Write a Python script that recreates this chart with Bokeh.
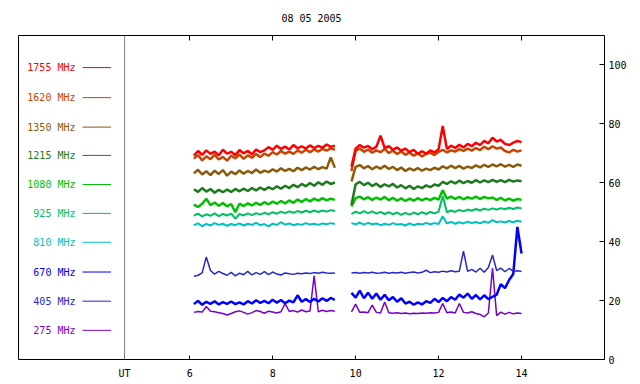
import numpy as np
from bokeh.plotting import figure
from bokeh.models import LinearAxis, FixedTicker, Span, Range1d, ColumnDataSource
from bokeh.core.properties import value
from bokeh.embed import file_html
from bokeh.resources import INLINE

# ---------------- data ----------------
title_text = "08 05 2005"
t_seg1 = np.round(np.arange(6.1, 9.51, 0.1), 2)   # 35 samples
t_seg2 = np.round(np.arange(9.9, 14.01, 0.1), 2)  # 42 samples

f1755_a = [69.2,70.8,69.5,71.0,69.8,70.6,69.3,
           71.2,69.9,70.5,69.4,71.1,70.0,70.8,
           69.7,71.3,70.4,71.0,72.1,71.2,72.6,
           71.5,72.3,71.3,72.8,71.7,72.4,71.6,
           72.7,71.8,72.5,71.9,73.0,72.2,72.6]
f1755_b = [65.5,71.6,72.8,71.9,72.5,71.4,72.2,
           76.0,71.8,72.4,71.2,72.0,70.9,71.6,
           70.4,71.2,69.8,70.7,69.9,71.0,70.3,
           71.4,79.3,71.5,72.6,71.8,72.9,72.0,
           73.2,72.4,73.6,72.8,74.2,73.4,75.3,
           74.0,74.6,73.2,72.8,73.6,74.2,73.8]

f1620_a = [68.2,69.4,67.6,69.0,68.0,69.5,67.9,
           68.8,67.5,69.2,68.3,69.6,68.1,69.3,
           68.5,69.8,68.7,69.9,69.2,70.4,69.6,
           70.8,69.9,70.6,69.8,71.0,70.2,71.2,
           70.4,71.3,70.6,71.5,70.9,71.7,71.2]
f1620_b = [64.0,70.9,71.6,70.5,71.3,70.2,71.0,
           70.4,71.5,70.1,70.9,69.8,70.6,69.5,
           70.3,69.2,70.0,68.9,69.8,70.2,69.4,
           70.5,71.2,70.3,71.0,70.6,71.4,70.8,
           71.6,70.9,71.8,71.1,72.2,71.4,72.4,
           71.6,72.0,70.8,70.3,71.2,70.6,71.0]

f1350_a = [63.2,64.4,62.8,63.9,62.6,64.1,63.0,
           64.3,62.4,63.8,62.9,64.2,63.1,64.0,
           63.3,64.5,63.4,64.1,63.6,64.6,63.8,
           64.9,64.0,64.7,63.9,65.1,64.3,65.2,
           64.5,65.4,64.6,65.3,64.8,68.6,65.1]
f1350_b = [60.5,65.4,66.0,64.9,65.7,64.6,65.5,
           64.8,65.8,64.7,65.4,64.3,65.2,64.0,
           64.9,64.2,65.0,64.1,64.8,64.3,65.1,
           64.5,65.6,64.9,65.8,65.0,65.7,64.8,
           65.5,65.0,65.9,65.2,66.1,65.4,66.2,
           65.6,66.3,65.5,66.1,65.4,66.2,65.8]

f1215_a = [57.8,56.9,58.2,57.0,57.9,56.6,57.6,
           56.8,57.7,56.9,57.9,57.1,58.0,57.2,
           58.2,57.4,58.4,57.6,58.5,57.8,58.8,
           58.0,59.0,58.2,59.3,58.5,59.6,58.8,
           59.9,59.0,60.2,59.3,60.4,59.6,60.1]
f1215_b = [52.5,59.5,60.3,59.2,60.0,58.9,59.7,
           58.6,59.5,58.8,59.6,58.4,59.2,58.1,
           59.0,57.9,58.8,58.2,59.1,58.5,59.4,
           59.0,60.3,59.6,60.5,59.8,60.7,59.9,
           60.6,60.0,60.9,60.1,60.8,60.2,61.0,
           60.3,60.9,60.2,61.0,60.4,60.8,60.5]

f1080_a = [52.6,51.8,52.9,54.6,52.4,53.3,52.2,
           53.1,52.0,52.8,50.0,52.9,52.1,53.0,
           52.3,53.2,52.5,53.4,52.7,53.6,52.9,
           53.8,53.0,54.0,53.2,54.3,53.5,54.5,
           53.7,54.6,53.9,54.8,54.0,54.6,54.2]
f1080_b = [52.0,54.8,55.3,54.4,55.1,54.2,55.0,
           54.3,55.2,54.1,54.9,53.9,54.7,53.8,
           54.6,53.9,54.8,54.0,54.7,54.1,54.9,
           54.3,57.5,54.6,55.3,54.5,55.2,54.4,
           55.1,54.6,55.3,54.5,55.2,54.7,55.0,
           54.2,54.9,54.0,54.6,53.9,54.5,54.2]

f925_a = [48.9,49.5,48.6,49.3,48.8,49.6,48.7,
          49.4,48.9,49.5,47.8,49.4,48.9,49.6,
          49.0,49.7,49.2,49.8,49.3,50.0,49.5,
          50.2,49.7,50.3,49.8,50.4,49.9,50.5,
          50.0,50.6,50.1,50.6,50.2,50.7,50.4]
f925_b = [49.4,50.2,49.6,50.4,49.7,50.3,49.5,
          50.1,49.4,50.0,49.3,49.9,49.1,49.8,
          49.2,49.9,49.3,50.0,49.4,50.1,49.6,
          50.2,55.5,50.0,50.6,50.1,50.8,50.3,
          50.9,50.5,51.1,50.6,51.2,50.8,51.3,
          50.9,51.4,51.0,51.5,51.1,51.6,51.3]

f810_a = [45.6,46.2,45.3,46.0,45.5,46.3,45.7,
          46.1,45.4,46.0,45.6,46.2,45.5,46.1,
          45.7,46.4,45.6,46.0,45.2,46.1,45.7,
          46.6,45.8,46.2,45.6,46.0,45.7,46.3,
          45.8,46.1,45.7,46.2,45.9,46.3,46.0]
f810_b = [46.3,45.9,46.5,45.8,46.4,45.9,46.2,
          45.6,46.1,45.7,46.3,45.8,46.0,45.5,
          46.2,45.6,46.1,45.8,46.4,45.9,46.3,
          46.0,48.6,46.2,46.7,46.1,46.6,46.2,
          46.8,46.3,46.7,46.2,46.9,46.4,47.3,
          46.6,46.9,46.5,47.0,46.6,47.1,46.8]

f405_a = [28.3,28.6,29.4,34.8,30.2,29.0,29.9,
          29.2,28.6,29.6,28.4,29.3,28.8,29.9,
          28.7,29.5,28.9,29.8,28.8,29.7,29.0,
          28.7,29.4,29.1,28.9,29.3,29.1,29.4,
          29.2,29.5,29.3,29.6,29.4,29.3,29.4]
f405_b = [29.4,29.5,29.3,29.5,29.4,29.6,29.3,
          29.4,29.6,29.3,29.5,29.4,29.6,29.3,
          29.5,29.7,29.4,29.6,30.3,29.5,29.8,
          29.6,30.0,29.7,30.1,29.8,30.0,36.8,
          29.9,30.6,29.7,31.0,29.6,31.2,35.5,
          30.2,31.0,29.8,30.9,29.9,30.1,29.9]

f670_a = [18.8,19.9,18.6,19.6,18.9,19.8,18.7,
          19.5,18.9,19.7,18.8,19.4,18.7,19.8,
          19.0,20.1,19.2,19.9,19.1,20.3,19.3,
          20.2,19.1,20.0,19.4,21.8,19.6,20.5,
          19.5,20.6,19.7,20.8,19.9,20.9,20.2]
f670_b = [22.6,21.0,23.4,20.8,22.7,20.6,22.4,
          20.3,22.0,20.1,21.2,19.6,20.8,19.0,
          19.6,18.6,19.4,18.7,19.8,19.2,20.6,
          19.5,20.9,19.8,21.2,20.3,22.1,21.0,
          22.4,20.6,21.9,20.4,21.8,20.5,21.3,
          22.0,25.6,24.2,27.0,29.0,45.0,36.0]

f275_a = [16.0,16.3,16.1,18.0,16.4,16.2,15.9,
          15.6,15.1,15.6,16.2,16.5,16.0,15.4,
          15.9,16.6,16.3,15.7,16.4,16.1,15.8,
          16.2,19.0,16.3,16.6,16.1,16.8,16.2,
          16.5,28.4,16.2,16.7,16.3,16.6,16.4]
f275_b = [16.2,18.8,16.0,16.1,15.9,18.5,16.0,
          15.8,19.5,15.9,15.7,15.9,15.6,15.8,
          15.5,15.7,15.6,15.8,15.7,15.9,15.8,
          16.0,19.0,15.9,16.1,15.8,19.0,16.0,
          15.8,16.2,15.6,15.3,14.5,15.8,31.0,
          14.9,16.1,15.4,16.0,15.5,15.8,15.6]

freq_labels = ["1755 MHz", "1620 MHz", "1350 MHz", "1215 MHz", "1080 MHz",
               "925 MHz", "810 MHz", "670 MHz", "405 MHz", "275 MHz"]
freq_colors = ["#ff0000", "#c84400", "#8c5a0a", "#1e7a1e", "#00c000",
               "#00be64", "#00c0c0", "#0000ff", "#2828c8", "#7800c8"]
legend_y = [99.1, 88.9, 78.9, 69.3, 59.4, 49.6, 39.8, 29.7, 19.8, 9.9]

y_ticks = [0, 20, 40, 60, 80, 100]
x_ticks = [6, 8, 10, 12, 14]
ut_pos = 4.43

# ---------------- figure ----------------
FONT = "DejaVu Sans Mono"
p = figure(width=640, height=384, x_range=Range1d(1.872, 16.0), y_range=Range1d(0, 110),
           output_backend="svg", toolbar_location=None, y_axis_location="right",
           min_border_left=18, min_border_right=36, min_border_top=35, min_border_bottom=25)
p.grid.visible = False
p.outline_line_color = "black"
p.outline_line_width = 1
p.background_fill_color = "white"
p.border_fill_color = "white"

xa = p.xaxis[0]
xa.ticker = FixedTicker(ticks=[ut_pos] + x_ticks)
xa.major_label_overrides = {ut_pos: "UT"}
xa.major_tick_in = 4
xa.major_tick_out = 0
xa.minor_tick_line_color = None
xa.axis_line_color = None
xa.major_label_standoff = 8
xa.major_label_text_font = FONT
xa.major_label_text_font_size = "10px"
xa.major_label_text_color = "black"

ya = p.yaxis[0]
ya.ticker = FixedTicker(ticks=y_ticks)
ya.major_tick_in = 5
ya.major_tick_out = 0
ya.minor_tick_line_color = None
ya.axis_line_color = None
ya.major_label_standoff = 4
ya.major_label_text_font = FONT
ya.major_label_text_font_size = "10px"
ya.major_label_text_color = "black"

# top axis: tick marks only (as minor ticks, so no tick labels are drawn) + date title
top = LinearAxis(ticker=FixedTicker(ticks=[], minor_ticks=x_ticks),
                 minor_tick_in=5, minor_tick_out=0, minor_tick_line_color="black",
                 major_tick_in=0, major_tick_out=0, axis_line_color=None,
                 major_label_standoff=0,
                 axis_label=title_text, axis_label_standoff=12,
                 axis_label_text_font=FONT, axis_label_text_font_size="10px",
                 axis_label_text_font_style="normal", axis_label_text_color="black")
p.add_layout(top, "above")

p.add_layout(Span(location=ut_pos, dimension="height", line_color="#808080", line_width=1))

times = np.concatenate([t_seg1, [np.nan], t_seg2])
series = [
    (f275_a, f275_b, "#7800c8", 1.5),
    (f670_a, f670_b, "#0000ff", 2.5),
    (f405_a, f405_b, "#2828c8", 1.5),
    (f810_a, f810_b, "#00c0c0", 2),
    (f925_a, f925_b, "#00be64", 2),
    (f1080_a, f1080_b, "#00c000", 2.5),
    (f1215_a, f1215_b, "#1e7a1e", 2.5),
    (f1350_a, f1350_b, "#8c5a0a", 2.5),
    (f1620_a, f1620_b, "#c84400", 2.5),
    (f1755_a, f1755_b, "#ff0000", 2.5),
]
for a, b, c, w in series:
    assert len(a) == len(t_seg1) and len(b) == len(t_seg2), (len(a), len(b))
    y = np.array(a + [np.nan] + b, dtype=float)
    p.line(times, y, line_color=c, line_width=w)

leg = ColumnDataSource(dict(y=legend_y, label=freq_labels, color=freq_colors))
p.text(x=3.246, y="y", text="label", text_color="color", text_align="right",
       text_baseline="middle", text_font=value(FONT), text_font_size="10px", source=leg)
p.segment(x0=3.415, y0="y", x1=4.103, y1="y", line_color="color", line_width=1, source=leg)

open("out.html", "w").write(file_html(p, INLINE))
